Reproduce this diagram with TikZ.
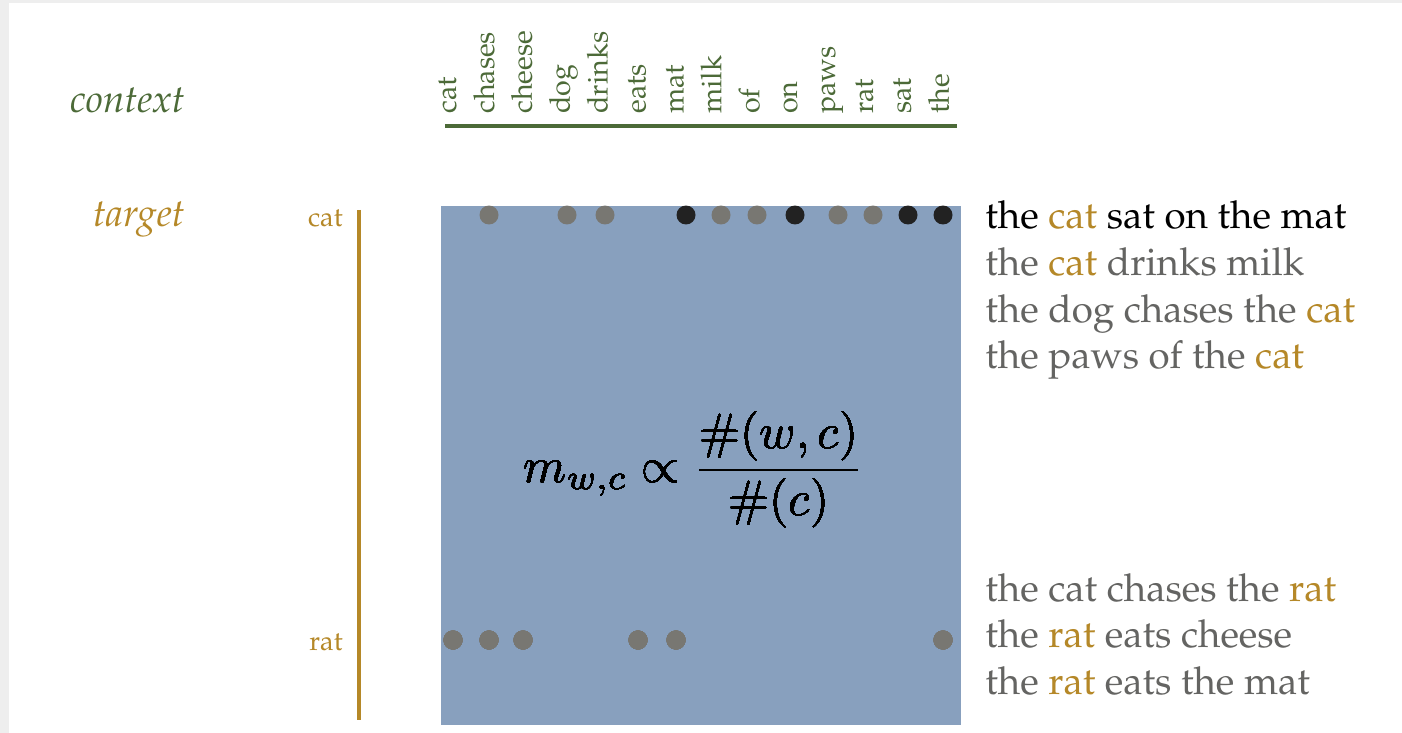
\documentclass[tikz,border=0pt]{standalone}
\usepackage[T1]{fontenc}
\renewcommand{\rmdefault}{ppl}
\usepackage{xcolor}
\usepackage{tikz}
\definecolor{ctxgreen}{RGB}{76,106,56}
\definecolor{tgtgold}{RGB}{181,136,40}
\definecolor{sentgray}{RGB}{100,100,98}
\definecolor{dotgray}{RGB}{120,119,114}
\definecolor{dotblack}{RGB}{34,34,34}
\definecolor{matblue}{RGB}{136,160,190}
\definecolor{framegray}{RGB}{238,238,238}
\newcommand{\wdot}[3]{\fill[#3] (#1,#2) circle[radius=0.19cm];}
\tikzset{
  sent/.style={anchor=base west,inner sep=0pt,font=\fontsize{21.9}{26}\selectfont,text=sentgray},
  side/.style={anchor=base east,inner sep=0pt,font=\fontsize{22}{26}\selectfont\itshape},
  rowlab/.style={anchor=base east,inner sep=0pt,font=\fontsize{15.5}{18}\selectfont,text=tgtgold},
  collab/.style={rotate=90,anchor=mid west,inner sep=0pt,font=\fontsize{16.3}{19}\selectfont,text=ctxgreen}
}

\begin{document}
\begin{tikzpicture}[x=0.02cm,y=-0.02cm]
\useasboundingbox (0,0) rectangle (1402,733);
\fill[framegray] (0,0) rectangle (9,733);
\fill[framegray] (0,0) rectangle (1402,3);
% ---- LABELS ----
\node[side,text=ctxgreen] (ctx) at (185,113) {context};
\node[side,text=tgtgold] (tgt) at (185,227) {target};
\node[rowlab] (lcat) at (343,227) {cat};
\node[rowlab] (lrat) at (343,650) {rat};
% ---- COLUMNS ----
\foreach \w [count=\i from 0] in {cat,chases,cheese,dog,drinks,eats,mat,milk,of,on,paws,rat,sat,the}
  \node[collab] (col-\i) at (452+37.9*\i,114) {\w};
\coordinate (gl) at (445,126); \coordinate (gr) at (957,126);
\draw[ctxgreen,line width=1.9pt] (gl) -- (gr);
\coordinate (tt) at (359,210); \coordinate (tb) at (359,720);
\draw[tgtgold,line width=2.3pt] (tt) -- (tb);
% ---- MATRIX ----
\fill[matblue] (441,206) rectangle (961,725);
\foreach \x/\c in {489/dotgray,567/dotgray,605/dotgray,686/dotblack,721/dotgray,757/dotgray,
  795/dotblack,838/dotgray,873/dotgray,908/dotblack,943/dotblack}
  \wdot{\x}{215}{\c}
\foreach \x in {453,489,523,638,676,943}
  \wdot{\x}{640}{dotgray}
\node[font=\fontsize{10}{12}\selectfont,scale=2.8] (frm) at (694,470)
  {$\displaystyle m_{w,c}\propto\frac{\#(w,c)}{\#(c)}$};
% ---- SENTENCES ----
\node[sent,text=black] (s1) at (985,229) {the {\color{tgtgold}cat} sat on the mat};
\node[sent] (s2) at (985,275.5) {the {\color{tgtgold}cat} drinks milk};
\node[sent] (s3) at (985,322) {the dog chases the {\color{tgtgold}cat}};
\node[sent] (s4) at (985,368.5) {the paws of the {\color{tgtgold}cat}};
\node[sent] (s5) at (985,601) {the cat chases the {\color{tgtgold}rat}};
\node[sent] (s6) at (985,647.5) {the {\color{tgtgold}rat} eats cheese};
\node[sent] (s7) at (985,694) {the {\color{tgtgold}rat} eats the mat};
\end{tikzpicture}
\end{document}
